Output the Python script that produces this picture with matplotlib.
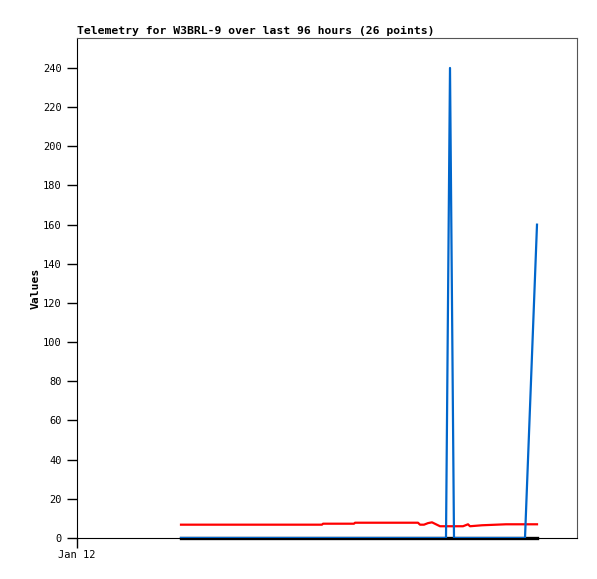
import numpy as np
import matplotlib.pyplot as plt

# hours since Jan 12 00:00
hours = [20.8, 30.6, 40.6, 49.0, 49.2, 55.4, 55.6, 64.6, 68.2, 68.6, 69.4,
         70.2, 71.0, 71.8, 72.6, 73.8, 74.6, 75.4, 77.2, 78.2, 78.6, 81.0,
         85.8, 89.6, 90.8, 92.0]
red_vals = [6.8, 6.8, 6.8, 6.8, 7.3, 7.3, 7.8, 7.8, 7.8, 6.8, 6.8,
            7.6, 8.0, 7.0, 6.0, 6.0, 6.0, 6.0, 6.0, 7.0, 6.0, 6.5,
            7.0, 7.0, 7.0, 7.0]
blue_vals = [0, 0, 0, 0, 0, 0, 0, 0, 0, 0, 0,
             0, 0, 0, 0, 0, 240, 0, 0, 0, 0, 0,
             0, 0, 80, 160]
black_vals = [0] * 26

yticks = list(range(0, 241, 20))
title = "Telemetry for W3BRL-9 over last 96 hours (26 points)"

plt.rcParams['font.family'] = ['DejaVu Sans Mono']

fig = plt.figure(figsize=(5.97, 5.79), dpi=100)
ax = fig.add_axes([77/597, 41/579, 500/597, 500/579])

ax.plot(hours, red_vals, color="#ff0000", linewidth=1.6, zorder=2)
ax.plot(hours, black_vals, color="black", linewidth=2.4, zorder=3, clip_on=False)
ax.plot(hours, blue_vals, color="#0066cc", linewidth=1.6, zorder=4)

ax.set_xlim(0, 100)
ax.set_ylim(0, 255.3)
ax.set_yticks(yticks)
ax.set_yticklabels([str(t) for t in yticks], fontsize=7.5)
ax.set_xticks([0])
ax.set_xticklabels(["Jan 12"], fontsize=7.5)
ax.tick_params(direction="out", length=7, width=1, colors="black", pad=4)
ax.tick_params(axis="x", pad=2)

for s in ["top", "right"]:
    ax.spines[s].set_color("#555555")
for s in ["left", "bottom"]:
    ax.spines[s].set_color("black")

ax.set_ylabel("Values", fontsize=8.2, fontweight="bold", labelpad=2)
ax.set_title(title, fontsize=8.2, fontweight="bold", loc="left", pad=3)

fig.savefig("out.png", dpi=100)
